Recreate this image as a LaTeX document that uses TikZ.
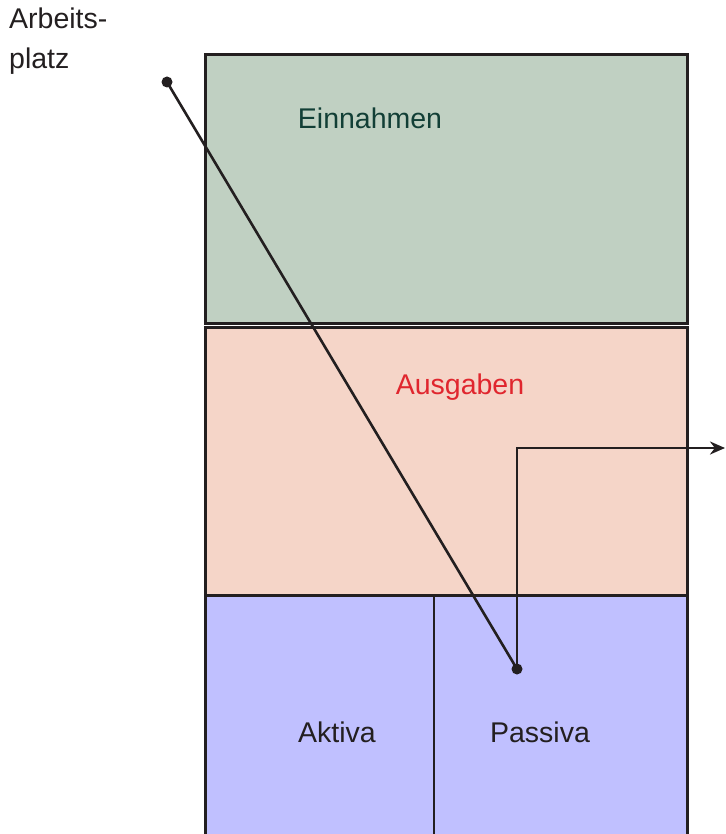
\documentclass[tikz,border=0pt]{standalone}
\usepackage{fontspec}
\setmainfont{Liberation Sans}
\usetikzlibrary{arrows.meta}
\definecolor{greenfill}{HTML}{C0D0C2}
\definecolor{salmonfill}{HTML}{F5D5C8}
\definecolor{bluefill}{HTML}{C0C0FF}
\definecolor{greentext}{HTML}{123F36}
\definecolor{redtext}{HTML}{E0262E}
\definecolor{ink}{HTML}{231F20}
\tikzset{
  panel/.style={draw=ink, line width=3pt},
  label/.style={font=\fontsize{28.5}{40}\selectfont, text=ink, inner sep=0pt},
  link/.style={draw=ink, line width=2.6pt},
  dotmark/.style={circle, fill=ink, inner sep=0pt, minimum size=11pt},
}
\begin{document}
\begin{tikzpicture}[x=1pt,y=-1pt]
  \useasboundingbox (0,0) rectangle (725,834);
  \clip (0,0) rectangle (725,834);
  % stacked panels
  \draw[panel, fill=greenfill] (205,55) rectangle (687,323);
  \draw[panel, fill=salmonfill] (205,327) rectangle (687,595);
  \draw[panel, fill=bluefill] (205,595) rectangle (687,850);
  \draw[panel, line width=2.6pt] (434,595) -- (434,850);
  % panel labels
  \node[label, text=greentext] (ein) at (370,118) {Einnahmen};
  \node[label, text=redtext] (aus) at (460,387) {Ausgaben};
  \node[label] (akt) at (337,732) {Aktiva};
  \node[label] (pas) at (540,732) {Passiva};
  \node[label, anchor=north west, align=left] (arb) at (9,8) {Arbeits-\\platz};
  % connectors
  \node[dotmark] (p1) at (167,82) {};
  \node[dotmark] (p2) at (517,669) {};
  \coordinate (out) at (725,448);
  \draw[link] (p1.center) -- (p2.center);
  \draw[link, -{Stealth[length=15pt,width=13pt]}] (p2.center) |- (out);
\end{tikzpicture}
\end{document}
